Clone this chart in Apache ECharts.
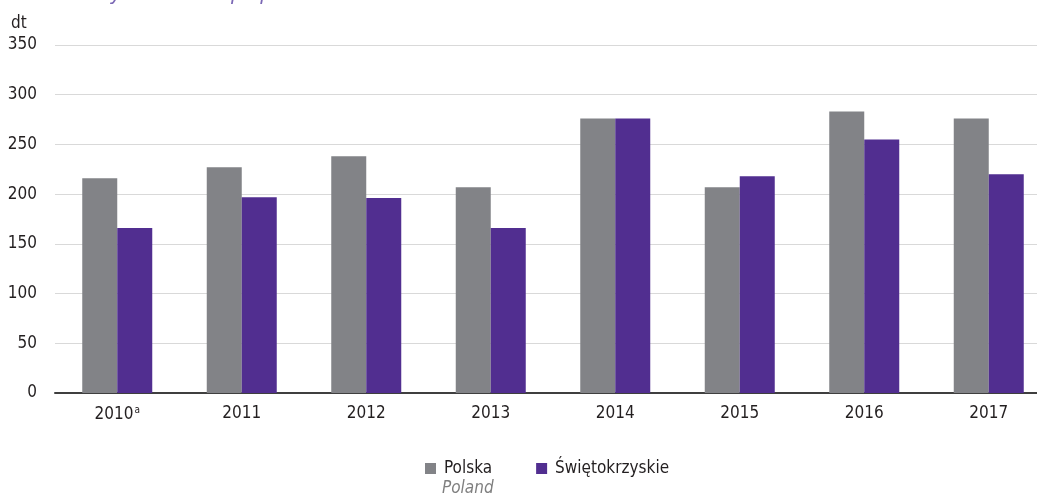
<!DOCTYPE html>
<html>
<head>
<meta charset="utf-8">
<style>
  html, body { margin: 0; padding: 0; background: #ffffff; overflow: hidden; }
  #chart { width: 1060px; height: 497px; }
</style>
<script src="https://cdn.jsdelivr.net/npm/echarts@6/dist/echarts.min.js"></script>
</head>
<body>
<div id="chart"></div>
<script>
// Yield data, decitonnes per hectare
const years = ['2010', '2011', '2012', '2013', '2014', '2015', '2016', '2017'];
const polska = [216, 227, 238, 207, 276, 207, 283, 276];
const swietokrzyskie = [166, 197, 196, 166, 276, 218, 255, 220];
const yTicks = { min: 0, max: 350, step: 50 };

const FONT = '"DejaVu Sans Condensed", "Liberation Sans Narrow", sans-serif';
const GREY = '#828387';
const PURPLE = '#512e90';

const chart = echarts.init(document.getElementById('chart'), null, { renderer: 'canvas' });

chart.setOption({
  animation: false,
  backgroundColor: '#ffffff',
  textStyle: { fontFamily: FONT },
  grid: { left: 55, top: 45, width: 996, height: 348, containLabel: false },
  legend: {
    left: 420,
    top: 455,
    itemWidth: 11,
    itemHeight: 11,
    itemGap: 44,
    icon: 'rect',
    textStyle: { fontFamily: FONT, fontSize: 17, color: '#231f20', padding: [0, 0, 0, 3] },
    data: ['Polska', 'Świętokrzyskie']
  },
  graphic: [
    {
      type: 'text', left: 11, top: 15,
      style: { text: 'dt', fontFamily: FONT, fontSize: 17, fill: '#231f20' }
    },
    {
      type: 'text', left: 442, top: 480,
      style: { text: 'Poland', fontFamily: FONT, fontSize: 17, fontStyle: 'italic', fill: '#7f7f7f' }
    },
    {
      type: 'text', left: 30, top: -17,
      style: { text: 'Cereals yields of crops per 1 ha', fontFamily: FONT, fontSize: 22, fontStyle: 'italic', fill: '#7b68b5' }
    }
  ],
  xAxis: {
    type: 'category',
    data: years,
    axisTick: { show: false },
    axisLine: { lineStyle: { color: '#3f3f3f', width: 2 } },
    axisLabel: {
      interval: 0,
      margin: 12,
      fontFamily: FONT,
      fontSize: 17,
      color: '#231f20',
      formatter: function (v, i) { return i === 0 ? '{n|' + v + '}{sup|a}' : v; },
      rich: {
        n: { fontFamily: FONT, fontSize: 17, lineHeight: 20, color: '#231f20' },
        sup: { fontFamily: FONT, fontSize: 10, lineHeight: 9, color: '#231f20', verticalAlign: 'top', padding: [0, 0, 0, 1] }
      }
    }
  },
  yAxis: {
    type: 'value',
    min: yTicks.min,
    max: yTicks.max,
    interval: yTicks.step,
    axisLine: { show: false },
    axisTick: { show: false },
    splitLine: { lineStyle: { color: '#d9d9d9', width: 1 } },
    axisLabel: { margin: 18, fontFamily: FONT, fontSize: 17, color: '#231f20' }
  },
  series: [
    {
      name: 'Polska', type: 'bar', data: polska, barWidth: 35, barGap: '0%',
      itemStyle: { color: GREY }
    },
    {
      name: 'Świętokrzyskie', type: 'bar', data: swietokrzyskie, barWidth: 35, barGap: '0%',
      itemStyle: { color: PURPLE }
    }
  ]
});
</script>
</body>
</html>
